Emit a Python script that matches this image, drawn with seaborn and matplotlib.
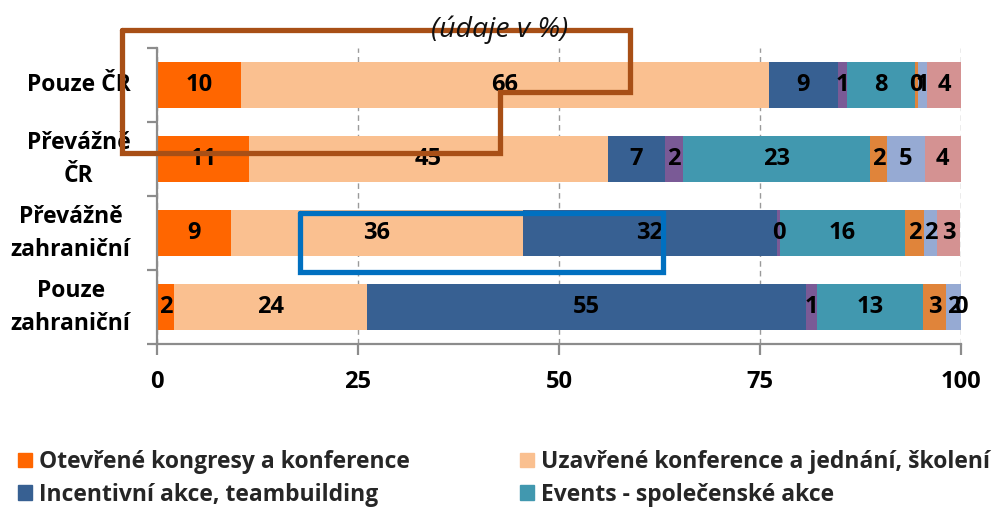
import numpy as np
import pandas as pd
import matplotlib.pyplot as plt
import seaborn as sns
from matplotlib.patches import Patch

# Categories (rows, top to bottom)
categories = ["Pouze ČR", "Převážně\nČR", "Převážně\nzahraniční", "Pouze\nzahraniční"]

# Segment shares in %
otevrene = [10.4, 11.4, 9.2, 2.1]
uzavrene = [65.7, 44.7, 36.3, 24.0]
incentivni = [8.6, 7.1, 31.6, 54.6]
typ_4 = [1.1, 2.2, 0.4, 1.4]
events = [8.5, 23.3, 15.5, 13.2]
typ_6 = [0.3, 2.1, 2.4, 2.8]
typ_7 = [1.2, 4.7, 1.6, 1.9]
typ_8 = [4.2, 4.5, 2.9, 0.0]

series_names = ["Otevřené kongresy a konference",
                "Uzavřené konference a jednání, školení",
                "Incentivní akce, teambuilding",
                "Events - společenské akce",
                "typ 5", "typ 6", "typ 7", "typ 8"]
series_values = [otevrene, uzavrene, incentivni, typ_4, events, typ_6, typ_7, typ_8]
colors = ["#FF6600", "#FAC090", "#376092", "#7A5A96",
          "#4198AF", "#E0843A", "#96AAD3", "#D49292"]

# long table with left/right edges of every segment
rows = []
for name, vals in zip(series_names, series_values):
    for cat, v in zip(categories, vals):
        rows.append({"category": cat, "series": name, "value": v})
df = pd.DataFrame(rows)
df["series"] = pd.Categorical(df["series"], series_names, ordered=True)
df["category"] = pd.Categorical(df["category"], categories, ordered=True)
df = df.sort_values(["category", "series"])
df["right"] = df.groupby("category", observed=True)["value"].cumsum()
df["left"] = df["right"] - df["value"]

sns.set_theme(style="white")
plt.rcParams["font.family"] = ["Open Sans", "DejaVu Sans"]

fig = plt.figure(figsize=(10.01, 5.07), dpi=100)
ax = fig.add_axes([0.1568, 0.3215, 0.8032, 0.5838])

# stacked bars: draw cumulative totals from the last series to the first
for name, col in reversed(list(zip(series_names, colors))):
    sub = df[df["series"] == name]
    sns.barplot(data=sub, x="right", y="category", order=categories, orient="h",
                color=col, saturation=1, width=0.62, errorbar=None,
                linewidth=0, ax=ax)

# value labels
for _, r in df.iterrows():
    i = categories.index(r["category"])
    ax.text(r["left"] + r["value"] / 2, i, f"{r['value']:.0f}", ha="center",
            va="center", fontsize=17, fontweight="bold", color="black")

ax.set_xlim(0, 100)
ax.set_ylim(3.5, -0.5)
ax.set_xlabel("")
ax.set_ylabel("")
ax.set_xticks([0, 25, 50, 75, 100])
ax.set_xticklabels(["0", "25", "50", "75", "100"], fontsize=17, fontweight="bold")
ax.set_yticks(range(len(categories)))
ax.set_yticklabels(categories, fontsize=16.5, fontweight="bold", linespacing=1.5)
for lab in ax.get_yticklabels():
    lab.set_multialignment("center")
    lab.set_verticalalignment("center")
ax.set_yticks(np.arange(-0.5, len(categories), 1), minor=True)

ax.set_axisbelow(True)
ax.xaxis.grid(True, linestyle=(0, (4, 3)), color="#9a9a9a", linewidth=1)
ax.yaxis.grid(False)
for s in ["top", "right"]:
    ax.spines[s].set_visible(False)
for s in ["left", "bottom"]:
    ax.spines[s].set_color("#8c8c8c")
    ax.spines[s].set_linewidth(1.6)
ax.tick_params(axis="x", which="major", bottom=True, length=8, width=1.6,
               color="#8c8c8c", pad=11, labelcolor="black")
ax.tick_params(axis="y", which="major", left=False, length=0, pad=19,
               labelcolor="black")
ax.tick_params(axis="y", which="minor", left=True, length=7, width=1.6,
               color="#8c8c8c")

# highlight shapes drawn over the chart (data coordinates)
brown_x = [-4.35, 58.83, 58.83, 42.66, 42.66, -4.35, -4.35]
brown_y = [-0.743, -0.743, 0.095, 0.095, 0.919, 0.919, -0.743]
ax.plot(brown_x, brown_y, color="#A84F16", linewidth=3.8, clip_on=False,
        solid_joinstyle="miter", zorder=6)
blue_x = [17.79, 62.94, 62.94, 17.79, 17.79]
blue_y = [1.73, 1.73, 2.527, 2.527, 1.73]
ax.plot(blue_x, blue_y, color="#0070C0", linewidth=3.8, clip_on=False,
        solid_joinstyle="miter", zorder=6)

fig.text(0.4995, 1 - 30 / 507, "(údaje v %)", ha="center", va="center",
         fontsize=20.5, fontstyle="italic", color="#111111")

# legend (only the two visible rows)
leg_kw = dict(loc="upper left", frameon=False, ncol=1, borderaxespad=0,
              borderpad=0, handlelength=0.6, handleheight=0.6,
              handletextpad=0.3, labelspacing=0.38,
              prop={"weight": "bold", "size": 16.5})
h1 = [Patch(color=colors[0]), Patch(color=colors[2])]
fig.legend(h1, [series_names[0], series_names[2]],
           bbox_to_anchor=(18 / 1001, 1 - 450 / 507), **leg_kw)
h2 = [Patch(color=colors[1]), Patch(color=colors[4])]
fig.legend(h2, [series_names[1], series_names[3]],
           bbox_to_anchor=(520 / 1001, 1 - 450 / 507), **leg_kw)

fig.savefig("out.png", dpi=100)
